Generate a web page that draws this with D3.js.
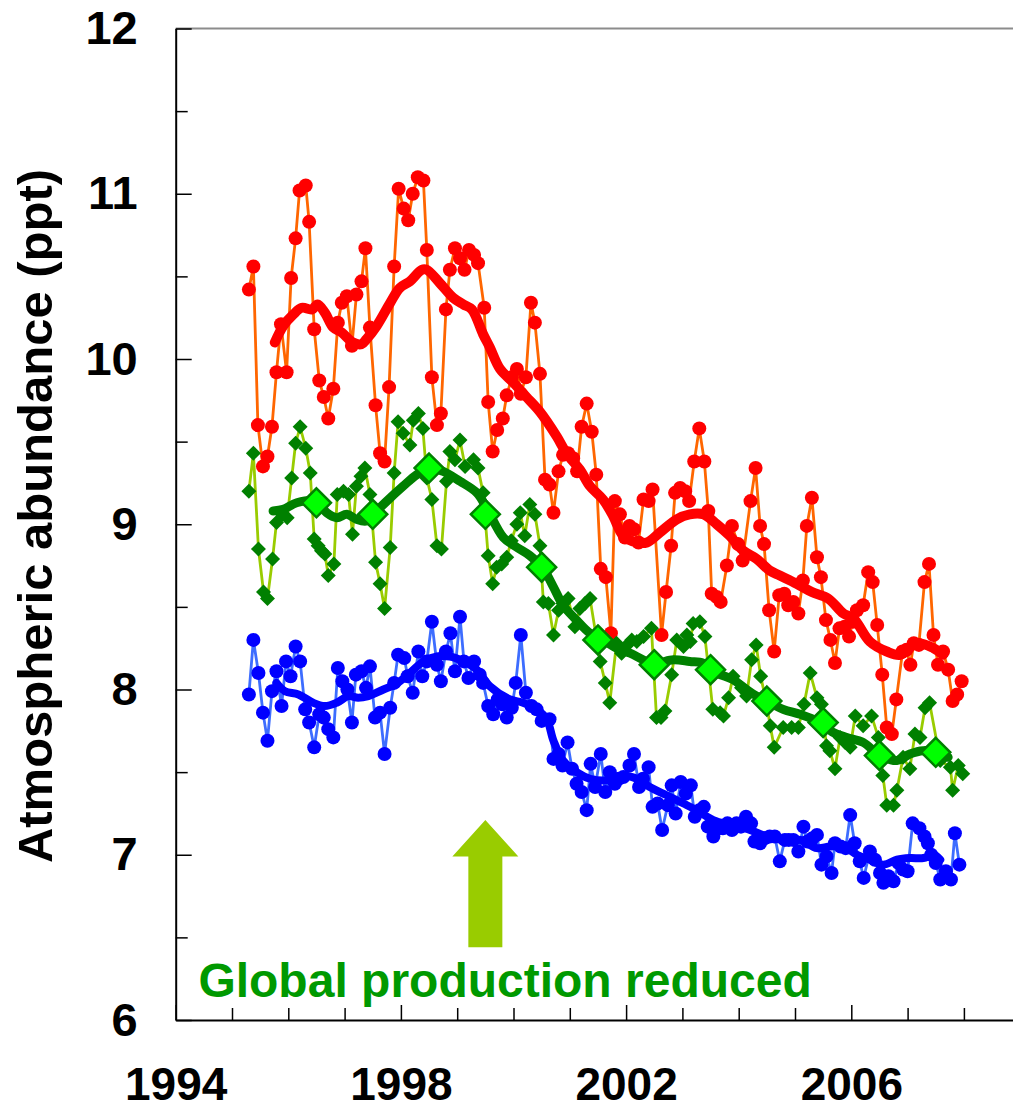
<!DOCTYPE html>
<html>
<head>
<meta charset="utf-8">
<script src="https://cdn.jsdelivr.net/npm/d3@7"></script>
<style>
  body { margin: 0; background: #fff; }
  svg { display: block; }
  text { font-family: "Liberation Sans", Arial, Helvetica, sans-serif; font-weight: bold; }
</style>
</head>
<body>
<svg id="chart" width="1013" height="1110"></svg>
<script>
// Monthly station means [decimal year, ppt]
const redMonthly = [
  [1995.30,10.42],[1995.38,10.56],[1995.46,9.60],[1995.55,9.35],[1995.63,9.41],[1995.71,9.59],[1995.79,9.92],[1995.87,10.21],[1995.97,9.92],
  [1996.05,10.49],[1996.13,10.73],[1996.20,11.02],[1996.31,11.05],[1996.37,10.83],[1996.46,10.18],[1996.55,9.87],[1996.63,9.77],[1996.71,9.64],[1996.80,9.82],[1996.88,10.22],[1996.95,10.34],
  [1997.04,10.38],[1997.13,10.08],[1997.21,10.39],[1997.30,10.47],[1997.37,10.67],[1997.45,10.19],[1997.55,9.72],[1997.63,9.43],[1997.71,9.38],[1997.79,9.83],[1997.88,10.56],[1997.96,11.03],
  [1998.05,10.91],[1998.13,10.84],[1998.21,11.00],[1998.30,11.10],[1998.40,11.08],[1998.46,10.66],[1998.55,9.89],[1998.64,9.60],[1998.71,9.67],[1998.80,10.30],[1998.87,10.54],[1998.96,10.67],
  [1999.05,10.61],[1999.13,10.54],[1999.21,10.66],[1999.30,10.63],[1999.37,10.58],[1999.48,10.31],[1999.55,9.74],[1999.63,9.44],[1999.71,9.57],[1999.81,9.64],[1999.88,9.78],[1999.97,9.89],
  [2000.06,9.94],[2000.13,9.79],[2000.22,9.89],[2000.31,10.34],[2000.38,10.22],[2000.47,9.91],[2000.56,9.27],[2000.64,9.24],[2000.71,9.07],[2000.80,9.32],[2000.88,9.42],[2000.97,9.43],
  [2001.06,9.40],[2001.13,9.32],[2001.21,9.59],[2001.30,9.73],[2001.39,9.56],[2001.47,9.30],[2001.55,8.73],[2001.64,8.68],[2001.73,8.34],[2001.80,9.14],[2001.89,9.06],[2001.98,8.92],
  [2002.06,8.99],[2002.14,8.97],[2002.22,8.89],[2002.31,9.15],[2002.40,9.14],[2002.47,9.21],[2002.63,8.33],[2002.71,8.59],[2002.80,8.87],[2002.87,9.19],[2002.96,9.22],
  [2003.05,9.20],[2003.12,9.14],[2003.21,9.38],[2003.30,9.58],[2003.39,9.38],[2003.46,9.08],[2003.52,8.58],[2003.61,8.56],[2003.68,8.53],[2003.79,8.75],[2003.88,8.99],[2003.99,8.88],
  [2004.07,8.78],[2004.21,9.14],[2004.30,9.34],[2004.38,8.99],[2004.45,8.88],[2004.54,8.48],[2004.63,8.23],[2004.72,8.57],[2004.81,8.58],[2004.88,8.51],[2004.97,8.53],
  [2005.06,8.46],[2005.14,8.66],[2005.21,8.99],[2005.30,9.16],[2005.39,8.80],[2005.46,8.68],[2005.55,8.42],[2005.63,8.30],[2005.71,8.16],[2005.79,8.37],[2005.88,8.38],[2005.96,8.32],
  [2006.03,8.41],[2006.10,8.48],[2006.21,8.51],[2006.30,8.71],[2006.38,8.65],[2006.46,8.39],[2006.55,8.09],[2006.63,7.77],[2006.72,7.73],[2006.80,7.94],[2006.91,8.23],[2006.98,8.24],
  [2007.05,8.15],[2007.11,8.28],[2007.20,8.27],[2007.30,8.65],[2007.38,8.76],[2007.46,8.33],[2007.54,8.15],[2007.63,8.23],[2007.72,8.12],[2007.80,7.93],[2007.88,7.97],[2007.96,8.05]
];

const redTrend = [
  [1995.76,10.10],[1995.91,10.20],[1996.09,10.27],[1996.24,10.31],[1996.42,10.30],[1996.52,10.33],[1996.65,10.28],[1996.80,10.19],[1996.95,10.16],
  [1997.15,10.10],[1997.30,10.09],[1997.39,10.12],[1997.57,10.20],[1997.81,10.34],[1997.98,10.43],[1998.16,10.47],[1998.37,10.54],[1998.46,10.54],
  [1998.69,10.46],[1998.93,10.37],[1999.11,10.33],[1999.26,10.30],[1999.46,10.15],[1999.58,10.07],[1999.76,9.94],[1999.99,9.86],[2000.23,9.77],
  [2000.47,9.68],[2000.77,9.53],[2000.94,9.43],[2001.18,9.33],[2001.36,9.23],[2001.59,9.15],[2001.77,9.05],[2001.95,8.93],[2002.19,8.89],
  [2002.37,8.89],[2002.60,8.95],[2002.90,9.03],[2003.13,9.06],[2003.37,9.06],[2003.61,9.00],[2003.84,8.93],[2004.08,8.84],[2004.32,8.79],
  [2004.55,8.72],[2004.73,8.69],[2005.03,8.64],[2005.30,8.59],[2005.59,8.55],[2005.86,8.46],[2006.04,8.43],[2006.33,8.29],[2006.63,8.23],
  [2006.87,8.21],[2007.16,8.28],[2007.46,8.25],[2007.63,8.21]
];

const greenMonthly = [
  [1995.30,9.20],[1995.38,9.43],[1995.47,8.85],[1995.56,8.59],[1995.63,8.55],[1995.72,8.79],[1995.79,9.01],[1995.89,9.06],[1995.98,9.04],
  [1996.06,9.28],[1996.13,9.49],[1996.21,9.59],[1996.31,9.46],[1996.39,9.31],[1996.46,8.91],[1996.53,8.87],[1996.59,8.84],[1996.65,8.82],[1996.71,8.69],[1996.81,8.76],[1996.87,9.18],[1996.98,9.20],
  [1997.07,9.18],[1997.14,8.94],[1997.21,9.23],[1997.29,9.29],[1997.36,9.34],[1997.45,9.18],[1997.55,8.77],[1997.63,8.64],[1997.71,8.49],[1997.81,8.86],[1997.88,9.31],[1997.95,9.62],
  [1998.04,9.55],[1998.16,9.48],[1998.22,9.63],[1998.31,9.67],[1998.39,9.58],[1998.46,9.28],[1998.55,9.15],[1998.64,8.87],[1998.72,8.85],[1998.81,9.26],[1998.87,9.44],[1998.96,9.39],
  [1999.05,9.51],[1999.14,9.35],[1999.29,9.39],[1999.37,9.34],[1999.46,9.19],[1999.55,8.81],[1999.63,8.64],[1999.70,8.74],[1999.79,8.76],[1999.88,8.80],[1999.96,8.90],
  [2000.06,9.00],[2000.12,9.07],[2000.20,8.93],[2000.29,9.12],[2000.38,9.06],[2000.47,8.87],[2000.53,8.53],[2000.62,8.52],[2000.71,8.33],[2000.80,8.48],[2000.88,8.52],[2000.97,8.55],
  [2001.09,8.38],[2001.18,8.49],[2001.27,8.52],[2001.36,8.55],[2001.54,8.17],[2001.63,8.04],[2001.71,7.92],[2001.83,8.28],[2001.92,8.22],
  [2002.02,8.27],[2002.10,8.30],[2002.19,8.29],[2002.31,8.32],[2002.45,8.37],[2002.54,7.83],[2002.62,7.83],[2002.69,7.87],[2002.81,8.09],[2002.90,8.30],
  [2003.02,8.26],[2003.08,8.33],[2003.14,8.29],[2003.19,8.40],[2003.31,8.41],[2003.40,8.32],[2003.54,7.88],[2003.67,7.86],[2003.73,7.84],[2003.82,7.95],[2003.90,8.08],
  [2004.05,8.01],[2004.14,7.96],[2004.23,8.18],[2004.31,8.27],[2004.39,8.08],[2004.48,7.94],[2004.56,7.78],[2004.63,7.65],[2004.79,7.77],[2004.94,7.77],
  [2005.06,7.77],[2005.16,7.91],[2005.27,8.10],[2005.39,7.95],[2005.47,7.91],[2005.56,7.66],[2005.62,7.63],[2005.71,7.52],[2005.80,7.71],[2005.89,7.68],[2005.98,7.65],
  [2006.07,7.84],[2006.21,7.78],[2006.36,7.84],[2006.48,7.71],[2006.56,7.48],[2006.63,7.30],[2006.75,7.30],[2006.81,7.39],[2006.92,7.59],
  [2007.04,7.52],[2007.13,7.73],[2007.22,7.71],[2007.31,7.89],[2007.39,7.92],[2007.58,7.57],[2007.76,7.53],[2007.80,7.39],[2007.90,7.54],[2007.98,7.49]
];

// Annual means of the green series
const greenAnnual = [
  [1996.5,9.13],[1997.5,9.06],[1998.5,9.34],[1999.5,9.06],[2000.5,8.74],[2001.5,8.30],
  [2002.5,8.15],[2003.5,8.12],[2004.5,7.93],[2005.5,7.80],[2006.5,7.60],[2007.5,7.62]
];

const greenTrend = [
  [1995.73,9.08],[1995.91,9.09],[1996.15,9.13],[1996.50,9.14],[1996.68,9.07],[1996.86,9.04],[1997.04,9.06],[1997.21,9.03],[1997.39,9.02],
  [1997.51,9.06],[1997.75,9.14],[1998.04,9.23],[1998.28,9.30],[1998.50,9.34],[1998.75,9.32],[1999.05,9.26],[1999.35,9.19],[1999.52,9.10],
  [1999.82,8.92],[2000.06,8.86],[2000.29,8.81],[2000.53,8.73],[2000.71,8.62],[2000.88,8.51],[2001.12,8.42],[2001.36,8.34],[2001.59,8.30],
  [2001.83,8.25],[2002.07,8.22],[2002.37,8.17],[2002.54,8.16],[2002.84,8.18],[2003.13,8.17],[2003.37,8.16],[2003.61,8.10],[2003.90,8.06],
  [2004.14,8.00],[2004.32,7.96],[2004.50,7.93],[2004.79,7.88],[2005.09,7.85],[2005.39,7.81],[2005.68,7.74],[2005.92,7.71],[2006.21,7.68],
  [2006.51,7.60],[2006.81,7.57],[2007.04,7.61],[2007.28,7.63],[2007.52,7.62],[2007.72,7.59]
];

const blueMonthly = [
  [1995.30,7.97],[1995.38,8.30],[1995.47,8.10],[1995.55,7.86],[1995.63,7.69],[1995.71,7.99],[1995.79,8.11],[1995.88,7.90],[1995.96,8.17],
  [1996.04,8.08],[1996.13,8.26],[1996.21,8.17],[1996.30,7.88],[1996.37,7.80],[1996.46,7.65],[1996.55,7.85],[1996.63,7.83],[1996.71,7.76],[1996.80,7.71],[1996.88,8.13],[1996.96,8.05],
  [1997.05,8.00],[1997.13,7.80],[1997.20,8.09],[1997.30,8.11],[1997.38,8.01],[1997.45,8.14],[1997.54,7.83],[1997.63,7.86],[1997.71,7.61],[1997.81,7.89],[1997.88,8.04],[1997.95,8.21],
  [1998.06,8.19],[1998.12,8.08],[1998.21,7.98],[1998.31,8.23],[1998.38,8.08],[1998.46,8.17],[1998.55,8.41],[1998.64,8.15],[1998.71,8.05],[1998.80,8.23],[1998.88,8.34],[1998.96,8.11],
  [1999.05,8.44],[1999.12,8.17],[1999.20,8.07],[1999.30,8.17],[1999.40,8.09],[1999.46,8.04],[1999.55,7.90],[1999.64,7.85],[1999.72,7.94],[1999.80,7.91],[1999.88,7.83],[1999.97,7.89],
  [2000.04,8.04],[2000.13,8.33],[2000.22,7.98],[2000.32,7.90],[2000.41,7.88],[2000.50,7.81],[2000.64,7.82],[2000.71,7.58],[2000.80,7.61],[2000.87,7.54],[2000.96,7.68],
  [2001.04,7.52],[2001.12,7.43],[2001.21,7.38],[2001.30,7.27],[2001.37,7.55],[2001.45,7.41],[2001.55,7.61],[2001.63,7.38],[2001.71,7.50],[2001.80,7.43],[2001.87,7.46],[2001.95,7.47],
  [2002.06,7.54],[2002.14,7.61],[2002.23,7.41],[2002.30,7.46],[2002.40,7.53],[2002.47,7.29],[2002.56,7.31],[2002.64,7.15],[2002.74,7.30],[2002.81,7.42],[2002.88,7.25],[2002.97,7.44],
  [2003.06,7.37],[2003.15,7.42],[2003.22,7.23],[2003.30,7.27],[2003.38,7.29],[2003.45,7.17],[2003.55,7.11],[2003.64,7.16],[2003.72,7.16],[2003.80,7.19],[2003.88,7.15],[2003.96,7.19],
  [2004.04,7.17],[2004.13,7.23],[2004.22,7.19],[2004.28,7.08],[2004.38,7.07],[2004.46,7.10],[2004.55,7.11],[2004.64,7.11],[2004.73,6.96],[2004.82,7.09],[2004.89,7.09],[2004.97,7.09],
  [2005.06,7.02],[2005.15,7.17],[2005.22,7.08],[2005.31,7.10],[2005.39,7.12],[2005.47,6.94],[2005.56,6.99],[2005.65,6.89],[2005.71,7.07],[2005.81,7.05],[2005.90,7.04],[2005.98,7.24],
  [2006.06,7.07],[2006.15,6.96],[2006.22,6.86],[2006.33,7.02],[2006.42,6.97],[2006.51,6.89],[2006.57,6.83],[2006.66,6.87],[2006.75,6.84],[2006.84,6.95],[2006.92,6.91],
  [2007.00,6.90],[2007.09,7.19],[2007.21,7.16],[2007.30,7.11],[2007.36,7.07],[2007.42,7.00],[2007.50,6.95],[2007.58,6.85],[2007.68,6.90],[2007.77,6.85],[2007.84,7.13],[2007.92,6.94]
];

const blueTrend = [
  [1995.79,8.04],[1995.94,7.99],[1996.18,7.97],[1996.44,7.92],[1996.65,7.90],[1996.86,7.92],[1997.07,7.96],[1997.24,7.95],[1997.42,7.96],
  [1997.69,8.00],[1997.90,8.03],[1998.16,8.10],[1998.40,8.17],[1998.64,8.20],[1998.87,8.20],[1999.11,8.17],[1999.35,8.12],[1999.58,8.02],
  [1999.94,7.94],[2000.17,7.92],[2000.41,7.88],[2000.59,7.82],[2000.71,7.69],[2000.88,7.57],[2001.12,7.50],[2001.36,7.46],[2001.66,7.45],
  [2001.95,7.48],[2002.19,7.46],[2002.42,7.41],[2002.72,7.36],[2003.02,7.31],[2003.25,7.27],[2003.55,7.21],[2003.85,7.18],[2004.20,7.15],
  [2004.50,7.11],[2004.79,7.09],[2005.09,7.09],[2005.39,7.04],[2005.62,7.05],[2005.86,7.05],[2006.10,7.00],[2006.33,6.97],[2006.57,6.94],
  [2006.81,6.97],[2007.04,6.98],[2007.28,6.98],[2007.46,7.00],[2007.58,6.97]
];

// Axis ticks
const yMajorTicks = [6, 7, 8, 9, 10, 11, 12];
const yMinorTicks = [6.5, 7.5, 8.5, 9.5, 10.5, 11.5];
const xMajorTicks = [1994, 1998, 2002, 2006];
const xMinorTicks = [1995, 1996, 1997, 1999, 2000, 2001, 2003, 2004, 2005, 2007, 2008];

// Annotation: production-cut arrow (year, [bottom, head base, tip] in ppt)
const arrowYear = 1999.5;
const arrowLevels = [6.44, 6.99, 7.21];
const noteText = "Global production reduced";
const yTitle = "Atmospheric abundance (ppt)";

const svg = d3.select("#chart");
const x = d3.scaleLinear().domain([1994, 2009]).range([175.7, 1020.2]);
const y = d3.scaleLinear().domain([6, 12]).range([1020, 28.5]);

// ---- frame and axes ----
svg.append("line")
  .attr("x1", x(1994)).attr("x2", x(2009))
  .attr("y1", y(12)).attr("y2", y(12))
  .attr("stroke", "#8c8c8c").attr("stroke-width", 2);

function styleAxis(g, size) {
  g.select(".domain").attr("stroke", "#000").attr("stroke-width", 2);
  g.selectAll(".tick line").attr("stroke", "#000").attr("stroke-width", 1.5);
  g.selectAll(".tick text").attr("fill", "#000")
    .style("font-size", size + "px").style("font-weight", "bold")
    .style("font-family", "'Liberation Sans', Arial, sans-serif");
}

svg.append("g").attr("transform", `translate(${x(1994)},0)`)
  .call(d3.axisLeft(y).tickValues(yMinorTicks).tickSize(-12).tickFormat(""))
  .call(g => g.select(".domain").remove())
  .call(g => g.selectAll(".tick line").attr("stroke", "#000").attr("stroke-width", 1.5));

svg.append("g").attr("transform", `translate(0,${y(6)})`)
  .call(d3.axisBottom(x).tickValues(xMinorTicks).tickSize(-12).tickFormat(""))
  .call(g => g.select(".domain").remove())
  .call(g => g.selectAll(".tick line").attr("stroke", "#000").attr("stroke-width", 1.5));

svg.append("g").attr("transform", `translate(${x(1994)},0)`)
  .call(d3.axisLeft(y).tickValues(yMajorTicks).tickSizeInner(-16).tickSizeOuter(0)
    .tickPadding(38).tickFormat(d3.format("d")))
  .call(g => styleAxis(g, 47));

svg.append("g").attr("transform", `translate(0,${y(6)})`)
  .call(d3.axisBottom(x).tickValues(xMajorTicks).tickSizeInner(-15).tickSizeOuter(0)
    .tickPadding(47).tickFormat(d3.format("d")))
  .call(g => styleAxis(g, 46));

svg.append("text")
  .attr("transform", `translate(52,516) rotate(-90)`)
  .attr("text-anchor", "middle")
  .style("font-size", "49px")
  .attr("fill", "#000")
  .text(yTitle);

// ---- series helpers ----
const thinLine = d3.line().x(d => x(d[0])).y(d => y(d[1]));
const smoothLine = d3.line().x(d => x(d[0])).y(d => y(d[1])).curve(d3.curveCatmullRom.alpha(0.5));
const diamond = r => `M0,${-r}L${r},0L0,${r}L${-r},0Z`;

function drawThin(data, color, width) {
  svg.append("path").datum(data)
    .attr("d", thinLine).attr("fill", "none")
    .attr("stroke", color).attr("stroke-width", width)
    .attr("stroke-linejoin", "round");
}
function drawTrend(data, color, width) {
  svg.append("path").datum(data)
    .attr("d", smoothLine).attr("fill", "none")
    .attr("stroke", color).attr("stroke-width", width)
    .attr("stroke-linejoin", "round").attr("stroke-linecap", "round");
}
function drawDots(data, color, r) {
  svg.append("g").selectAll("circle").data(data).join("circle")
    .attr("cx", d => x(d[0])).attr("cy", d => y(d[1])).attr("r", r)
    .attr("fill", color);
}
function drawDiamonds(data, fill, r, stroke, sw) {
  svg.append("g").selectAll("path").data(data).join("path")
    .attr("transform", d => `translate(${x(d[0])},${y(d[1])})`)
    .attr("d", diamond(r))
    .attr("fill", fill)
    .attr("stroke", stroke || "none")
    .attr("stroke-width", sw || 0)
    .attr("stroke-linejoin", "miter");
}

// ---- red series ----
drawThin(redMonthly, "#ff6600", 2.8);
drawDots(redMonthly, "#ff0000", 7);
drawTrend(redTrend, "#ff0000", 10);

// ---- green series ----
drawThin(greenMonthly, "#99cc00", 2.8);
drawDiamonds(greenMonthly, "#008000", 7.5);
drawTrend(greenTrend, "#008000", 9);
drawDiamonds(greenAnnual, "#00ff00", 14.5, "#008000", 2.5);

// ---- blue series ----
drawThin(blueMonthly, "#3d6dff", 2.8);
drawDots(blueMonthly, "#0000ff", 7);
drawTrend(blueTrend, "#0000ff", 8);

// ---- annotation ----
const ax = x(arrowYear);
const [aBottom, aBase, aTip] = arrowLevels.map(y);
const headHalf = 33, shaftHalf = 17;
svg.append("path")
  .attr("d", `M${ax},${aTip}L${ax + headHalf},${aBase}L${ax + shaftHalf},${aBase}` +
             `L${ax + shaftHalf},${aBottom}L${ax - shaftHalf},${aBottom}L${ax - shaftHalf},${aBase}` +
             `L${ax - headHalf},${aBase}Z`)
  .attr("fill", "#99cc00");

svg.append("text")
  .attr("x", x(1999.85)).attr("y", y(6) - 23)
  .attr("text-anchor", "middle")
  .attr("fill", "#009900")
  .style("font-size", "48px")
  .text(noteText);
</script>
</body>
</html>
